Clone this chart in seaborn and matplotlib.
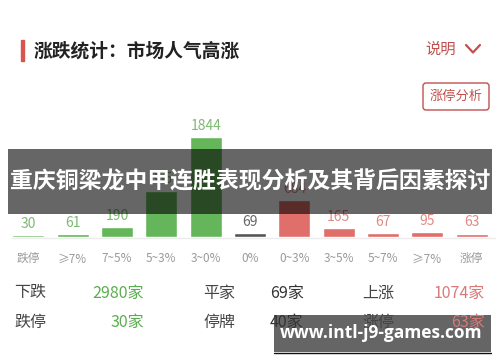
import matplotlib
matplotlib.use("Agg")
import matplotlib.pyplot as plt
import seaborn as sns
import pandas as pd
from matplotlib.patches import Rectangle, FancyBboxPatch

sns.set_theme(style="white")
plt.rcParams['font.family'] = ['Noto Sans CJK SC', 'DejaVu Sans']

# ---- data ----
categories = ["跌停", "≥7%", "7~5%", "5~3%", "3~0%", "0%", "0~3%", "3~5%", "5~7%", "≥7% ", "涨停"]
counts = [30, 61, 190, 855, 1844, 69, 684, 165, 67, 95, 63]
bar_colors = ["#65b65a"] * 5 + ["#555555"] + ["#e06e6a"] * 5
label_colors = ["#7dbb72"] * 5 + ["#666666"] + ["#e08a86"] * 5
stat_rows = [
    [("下跌", "2980家", "#5aae4f"), ("平家", "69家", "#333333"), ("上涨", "1074家", "#d9797a")],
    [("跌停", "30家", "#5aae4f"), ("停牌", "40家", "#333333"), ("涨停", "63家", "#d9797a")],
]
title = "涨跌统计：市场人气高涨"
banner = "重庆铜梁龙中甲连胜表现分析及其背后因素探讨"
watermark = "www.intl-j9-games.com"

W, H = 500, 362
fig = plt.figure(figsize=(5, 3.62), dpi=100)
fig.patch.set_facecolor("white")

# bar axes: baseline at y=237 px, 1844 -> 100 px tall
ax_h = 110
ymax = 1844 * ax_h / 100
ax = fig.add_axes([6 / W, (H - 237) / H, 488 / W, ax_h / H])
df = pd.DataFrame({"cat": categories, "n": counts})
sns.barplot(data=df, x="cat", y="n", hue="cat", palette=bar_colors, legend=False,
            width=0.72, ax=ax, saturation=1)
ax.set_ylim(0, ymax)
ax.set_xlim(-0.5, len(categories) - 0.5)
for i, cont in enumerate(ax.containers):
    ax.bar_label(cont, labels=[str(counts[i])], padding=3, color=label_colors[i], fontsize=10)
ax.set_xlabel("")
ax.set_ylabel("")
ax.set_yticks([])
ax.set_xticks(range(len(categories)))
ax.set_xticklabels(categories, color="#9a9a9a", fontsize=8.5)
ax.tick_params(axis="x", length=0, pad=11)
for s in ax.spines.values():
    s.set_visible(False)
ax.patch.set_alpha(0)

# overlay in pixel coordinates
ov = fig.add_axes([0, 0, 1, 1], zorder=10)
ov.set_xlim(0, W)
ov.set_ylim(H, 0)
ov.axis("off")
ov.patch.set_alpha(0)

# baseline
ov.plot([12, 495], [238, 238], color="#ececec", lw=1)

# header
ov.add_patch(Rectangle((21, 40), 2.5, 21, color="#d9534f"))
ov.text(34, 51, title, fontsize=13.5, color="#222222", va="center", ha="left", fontweight="bold")
ov.text(425, 49, "说明", fontsize=11, color="#c0504d", va="center", ha="left")
ov.plot([466, 473, 480], [45, 52.5, 45], color="#c0504d", lw=1.6, solid_capstyle="round")
ov.add_patch(FancyBboxPatch((423, 83), 66, 27, boxstyle="round,pad=0,rounding_size=3",
                            fc="white", ec="#c0504d", lw=1))
ov.text(456, 96.5, "涨停分析", fontsize=9.5, color="#c0504d", va="center", ha="center")

# stats
row_y = [293, 322]
for r, row in enumerate(stat_rows):
    y = row_y[r]
    (l1, v1, c1), (l2, v2, c2), (l3, v3, c3) = row
    ov.text(14, y, l1, fontsize=11.5, color="#444444", va="center", ha="left")
    ov.text(144, y, v1, fontsize=11.5, color=c1, va="center", ha="right")
    ov.text(203, y, l2, fontsize=11.5, color="#444444", va="center", ha="left")
    ov.text(270, y, v2, fontsize=11.5, color=c2, va="center", ha="left")
    ov.text(362, y, l3, fontsize=11.5, color="#444444", va="center", ha="left")
    ov.text(485, y, v3, fontsize=11.5, color=c3, va="center", ha="right")

# banner
ov.add_patch(Rectangle((8, 149), 484, 64.5, color="black", alpha=0.6, lw=0))
ov.text(250, 182, banner, fontsize=16.5, color="white", fontweight="bold",
        va="center", ha="center")

# watermark
ov.add_patch(Rectangle((274, 315), 217, 37, color="#4a4a4a", alpha=0.85, lw=0))
ov.plot([274, 491], [352.5, 352.5], color="#111111", lw=1)
ov.text(381, 333, watermark, fontsize=12.5, color="white", fontweight="bold",
        va="center", ha="center", family=["Open Sans", "DejaVu Sans"])

fig.savefig("out.png", dpi=100)
